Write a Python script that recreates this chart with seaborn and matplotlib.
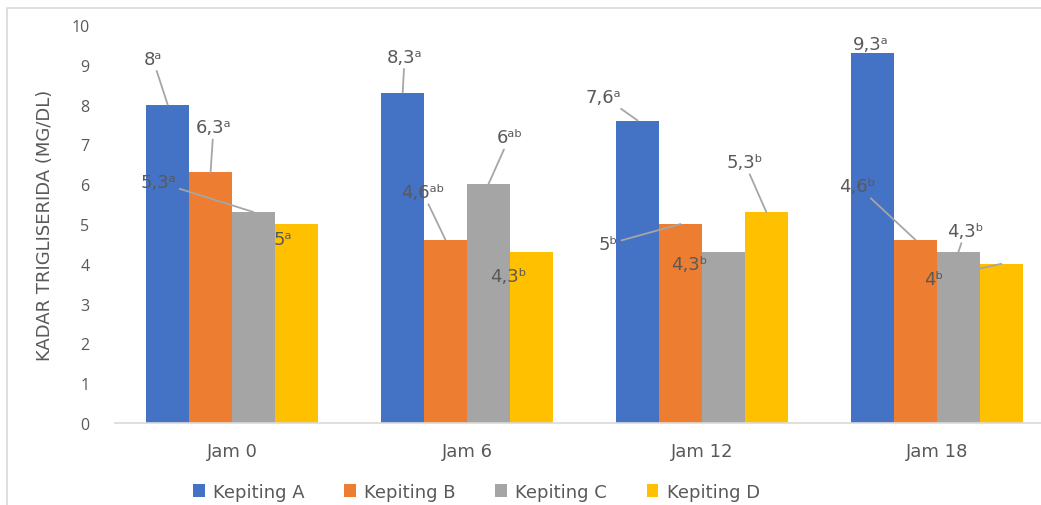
import matplotlib
matplotlib.use("Agg")
import pandas as pd
import matplotlib.pyplot as plt
import seaborn as sns
from matplotlib.patches import Rectangle

# Data
groups = ["Jam 0", "Jam 6", "Jam 12", "Jam 18"]
series = ["Kepiting A", "Kepiting B", "Kepiting C", "Kepiting D"]
kepiting_a = [8.0, 8.3, 7.6, 9.3]
kepiting_b = [6.3, 4.6, 5.0, 4.6]
kepiting_c = [5.3, 6.0, 4.3, 4.3]
kepiting_d = [5.0, 4.3, 5.3, 4.0]
labels_a = ["8ᵃ", "8,3ᵃ", "7,6ᵃ", "9,3ᵃ"]
labels_b = ["6,3ᵃ", "4,6ᵃᵇ", "5ᵇ", "4,6ᵇ"]
labels_c = ["5,3ᵃ", "6ᵃᵇ", "4,3ᵇ", "4,3ᵇ"]
labels_d = ["5ᵃ", "4,3ᵇ", "5,3ᵇ", "4ᵇ"]

colors = ["#4472c4", "#ed7d31", "#a5a5a5", "#ffc000"]
text_color = "#595959"

# label placement (pixel offset from bar top, leader line or not)
label_pos = [
    [(-15, 46, True), (2, 36, True), (-34, 24, True), (-2, 9, False)],
    [(3, 45, True), (-23, 48, True), (-72, -20, True), (-58, 54, True)],
    [(-95, 30, True), (21, 47, True), (-34, -12, False), (7, 21, True)],
    [(-14, -15, False), (-23, -24, False), (-22, 50, True), (-68, -15, True)],
]

values = [kepiting_a, kepiting_b, kepiting_c, kepiting_d]
labels = [labels_a, labels_b, labels_c, labels_d]

rows = []
for name, vals in zip(series, values):
    for g, v in zip(groups, vals):
        rows.append({"jam": g, "kepiting": name, "kadar": v})
df = pd.DataFrame(rows)

sns.set_theme(style="white")
plt.rcParams["font.family"] = ["DejaVu Sans"]

fig = plt.figure(figsize=(10.41, 5.06), dpi=100)
ax = fig.add_axes([114.5 / 1041, 82 / 506, 940 / 1041, 398 / 506])

sns.barplot(data=df, x="jam", y="kadar", hue="kepiting", order=groups,
            hue_order=series, palette=colors, width=0.73, saturation=1,
            errorbar=None, linewidth=0, ax=ax)

ax.set_xlim(-0.5, 3.5)
ax.set_ylim(0, 10)
ax.set_yticks(range(0, 11))
ax.set_xlabel("")
ax.set_ylabel("KADAR TRIGLISERIDA (MG/DL)", family=["Liberation Sans Narrow", "DejaVu Sans"],
              fontsize=13, color=text_color)
ax.yaxis.set_label_coords(-0.064, 0.5)

for s in ["top", "right", "left"]:
    ax.spines[s].set_visible(False)
ax.spines["bottom"].set_color("#d9d9d9")
ax.spines["bottom"].set_linewidth(1.2)

ax.tick_params(axis="x", length=0, pad=14, labelsize=13, labelcolor=text_color)
ax.tick_params(axis="y", length=0, pad=18, labelsize=11.5, labelcolor=text_color)
for t in ax.get_yticklabels():
    t.set_family(["Open Sans", "DejaVu Sans"])

# data labels with leader lines
for i, cont in enumerate(ax.containers):
    for j, bar in enumerate(cont):
        bx = bar.get_x() + bar.get_width() / 2
        by = bar.get_height()
        dx, dy, line = label_pos[i][j]
        arrow = None
        if line:
            arrow = dict(arrowstyle="-", color="#a6a6a6", lw=1.3, shrinkA=0, shrinkB=0)
        ax.annotate(labels[i][j], xy=(bx, by), xytext=(dx, dy), textcoords="offset pixels",
                    ha="center", va="center", fontsize=13, color=text_color,
                    arrowprops=arrow, zorder=5)

sns.move_legend(ax, "center", bbox_to_anchor=(0.385, -0.173), ncol=4, frameon=False,
                title=None, fontsize=13, handlelength=0.65, handleheight=0.65,
                handletextpad=0.45, columnspacing=2.2, labelcolor=text_color)

# thin frame around the chart area
fig.patches.append(Rectangle((7 / 1041, -0.1), 1.2, 497 / 506 + 0.1, transform=fig.transFigure,
                             fill=False, edgecolor="#d9d9d9", lw=1.2))

plt.savefig("out.png", dpi=100)
plt.close()
